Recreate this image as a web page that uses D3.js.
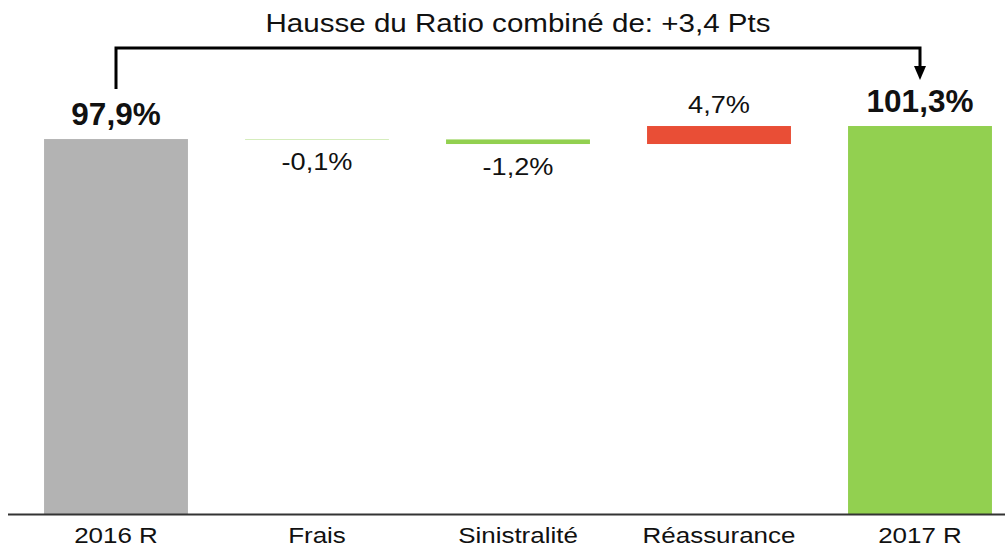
<!DOCTYPE html>
<html>
<head>
<meta charset="utf-8">
<script src="https://cdn.jsdelivr.net/npm/d3@7"></script>
<style>
  body { margin: 0; background: #fff; }
  text { font-family: "Liberation Sans", Arial, sans-serif; fill: #111; }
</style>
</head>
<body>
<svg id="chart" width="1005" height="551"></svg>
<script>
var categories = ["2016 R", "Frais", "Sinistralité", "Réassurance", "2017 R"];
var values = [97.9, -0.1, -1.2, 4.7, 101.3];
var kinds = ["total", "delta", "delta", "delta", "total"];
var valueLabels = ["97,9%", "-0,1%", "-1,2%", "4,7%", "101,3%"];
var titleText = "Hausse du Ratio combiné de: +3,4 Pts";

var svg = d3.select("#chart"),
    width = +svg.attr("width"),
    height = +svg.attr("height");

var baseline = 514;
var stretch = 1.18; // regular text in the original is a bit wide

var x = d3.scaleBand()
    .domain(categories)
    .range([15.5, 1020.5])
    .paddingInner(0.284)
    .paddingOuter(0.142);

var y = d3.scaleLinear()
    .domain([0, 100])
    .range([baseline, baseline - 383]);

// compute waterfall segments
var running = 0;
var bars = categories.map(function (c, i) {
    var d = { cat: c, label: valueLabels[i], kind: kinds[i], v: values[i] };
    if (kinds[i] == "total") {
        d.y0 = 0; d.y1 = values[i];
        running = values[i];
    } else {
        d.y0 = running; d.y1 = running + values[i];
        running = d.y1;
    }
    return d;
});

function barColor(d, i) {
    if (d.kind == "total") return i == 0 ? "#b3b3b3" : "#92d050";
    return d.v < 0 ? "#92d050" : "#e94e36";
}

svg.selectAll("rect.bar")
    .data(bars)
    .enter().append("rect")
    .attr("class", "bar")
    .attr("x", function (d) { return x(d.cat); })
    .attr("width", x.bandwidth())
    .attr("y", function (d) { return y(Math.max(d.y0, d.y1)); })
    .attr("height", function (d) { return Math.abs(y(d.y0) - y(d.y1)); })
    .attr("fill", barColor);

// value labels
svg.selectAll("text.val")
    .data(bars)
    .enter().append("text")
    .attr("class", "val")
    .attr("transform", function (d) {
        var cx = x(d.cat) + x.bandwidth() / 2, cy;
        if (d.kind == "total") cy = y(d.y1) - 14.5;
        else if (d.v < 0) cy = y(Math.min(d.y0, d.y1)) + 31;
        else cy = y(d.y1) - 13;
        var s = d.kind == "total" ? 1 : stretch;
        return "translate(" + cx + "," + cy + ") scale(" + s + ",1)";
    })
    .attr("text-anchor", "middle")
    .style("font-size", function (d) { return d.kind == "total" ? "31.5px" : "23px"; })
    .style("font-weight", function (d) { return d.kind == "total" ? "bold" : "normal"; })
    .text(function (d) { return d.label; });

// x axis
var xAxis = svg.append("g")
    .attr("transform", "translate(0," + baseline + ")")
    .call(d3.axisBottom(x).tickSize(0).tickPadding(13));
xAxis.select(".domain").remove();
xAxis.selectAll("text")
    .style("font-size", "22px")
    .style("font-family", "Liberation Sans, Arial, sans-serif")
    .attr("fill", "#111")
    .attr("transform", "scale(" + stretch + ",1)");
svg.append("line")
    .attr("x1", 8).attr("x2", width)
    .attr("y1", baseline + 0.5).attr("y2", baseline + 0.5)
    .attr("stroke", "#333").attr("stroke-width", 2);

// bracket arrow from first to last total
var first = bars[0], last = bars[bars.length - 1];
var xa = x(first.cat) + x.bandwidth() / 2,
    xb = x(last.cat) + x.bandwidth() / 2;
var topY = 48;

svg.append("path")
    .attr("d", "M" + xa + "," + (y(first.y1) - 50) + " V" + topY + " H" + xb + " V" + 68)
    .attr("fill", "none")
    .attr("stroke", "#000")
    .attr("stroke-width", 3);
svg.append("path")
    .attr("d", "M" + (xb - 6) + ",66 L" + (xb + 6) + ",66 L" + xb + ",80 Z")
    .attr("fill", "#000");

svg.append("text")
    .attr("x", (xa + xb) / 2)
    .attr("y", 32)
    .attr("text-anchor", "middle")
    .attr("textLength", 505)
    .attr("lengthAdjust", "spacingAndGlyphs")
    .style("font-size", "25.5px")
    .text(titleText);
</script>
</body>
</html>
